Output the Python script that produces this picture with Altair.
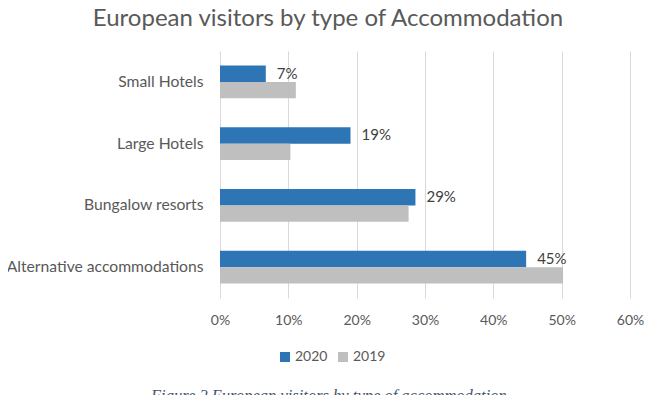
import altair as alt
import pandas as pd

categories = ["Small Hotels", "Large Hotels", "Bungalow resorts", "Alternative accommodations"]
years = ["2020", "2019"]
values_2020 = [0.067, 0.191, 0.286, 0.448]
values_2019 = [0.111, 0.103, 0.276, 0.502]
x_ticks = [0, 0.1, 0.2, 0.3, 0.4, 0.5, 0.6]

rows = []
for c, v in zip(categories, values_2020):
    rows.append({"cat": c, "year": "2020", "value": v})
for c, v in zip(categories, values_2019):
    rows.append({"cat": c, "year": "2019", "value": v})
df = pd.DataFrame(rows)

FONT = "Lato"
TXT = "#595959"

y_enc = alt.Y("cat:N", sort=categories, title=None,
              scale=alt.Scale(paddingInner=0.47, paddingOuter=0.235),
              axis=alt.Axis(domain=False, ticks=False, labelPadding=17,
                            labelFont=FONT, labelFontSize=15.7, labelColor=TXT,
                            labelLimit=300))
yoff = alt.YOffset("year:N", sort=years, scale=alt.Scale(paddingInner=0, paddingOuter=0))
x_enc = alt.X("value:Q", title=None,
              scale=alt.Scale(domain=[0, 0.6], nice=False),
              axis=alt.Axis(values=x_ticks, format=".0%", domain=False, ticks=False,
                            gridColor="#D9D9D9", gridWidth=1, labelPadding=15,
                            labelFlush=False,
                            labelFont=FONT, labelFontSize=14, labelColor=TXT))

bars = alt.Chart(df).mark_bar().encode(
    y=y_enc, yOffset=yoff, x=x_enc,
    color=alt.Color("year:N", sort=years,
                    scale=alt.Scale(domain=years, range=["#2E75B6", "#BFBFBF"]),
                    legend=alt.Legend(title=None, orient="none", direction="horizontal",
                                      legendX=58, legendY=299, symbolType="square",
                                      symbolSize=100, symbolStrokeWidth=0,
                                      labelFont=FONT, labelFontSize=14, labelColor=TXT,
                                      columnPadding=8, labelOffset=3)),
)

labels = alt.Chart(df).transform_filter(alt.datum.year == "2020").mark_text(
    align="left", baseline="middle", dx=11, font=FONT, fontSize=15, color="#404040"
).encode(
    y=alt.Y("cat:N", sort=categories),
    yOffset=alt.YOffset("year:N", sort=years),
    x="value:Q",
    text=alt.Text("value:Q", format=".0%"),
)

caption = alt.Chart(pd.DataFrame({"t": ["Figure 2 European visitors by type of accommodation"]})).mark_text(
    align="left", baseline="top", font="Liberation Serif", fontStyle="italic",
    fontSize=16.5, color="#44546A"
).encode(x=alt.value(-69), y=alt.value(337), text="t:N")

chart = alt.layer(bars, labels, caption).properties(
    width=410, height=247,
    autosize=alt.AutoSizeParams(type="none"),
    padding={"left": 212, "top": 43, "right": 24, "bottom": 120},
    title=alt.TitleParams("European visitors by type of Accommodation", anchor="middle",
                          frame="group", dx=-97, offset=20, font=FONT, fontSize=24,
                          fontWeight="normal", color=TXT),
).configure_view(stroke=None)

chart.save("out.html", embed_options={"renderer": "svg", "actions": False})
